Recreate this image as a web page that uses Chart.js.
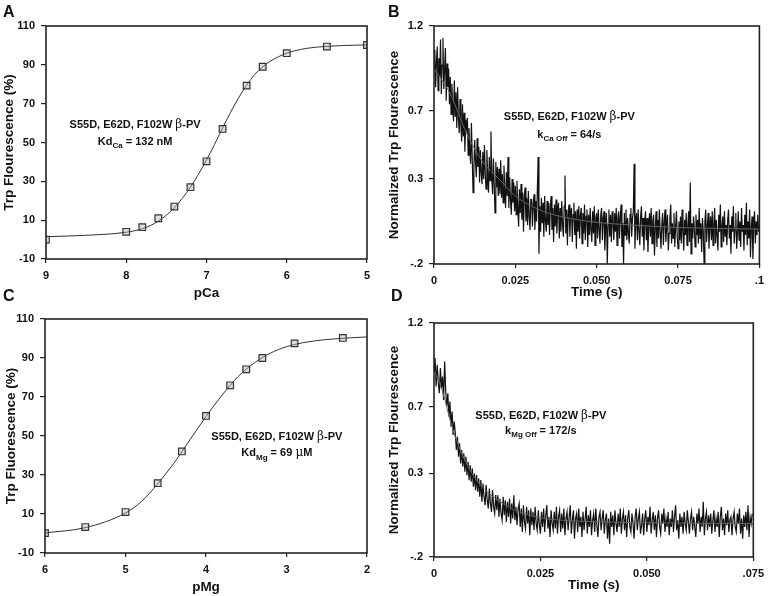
<!DOCTYPE html>
<html>
<head>
<meta charset="utf-8">
<script src="https://cdn.jsdelivr.net/npm/chart.js@4.4.0/dist/chart.umd.min.js"></script>
<style>
    body { margin: 0; background: #fff; }
    #fig { position: relative; width: 770px; height: 596px; font-family: "Liberation Sans", Arial, sans-serif; }
    .panel { position: absolute; }
    .letter { position: absolute; font-weight: bold; font-size: 16px; line-height: 1; color: #111; }
</style>
</head>
<body>
<div id="fig">
    <div class="panel" style="left:0;top:0"><canvas id="chartA" width="385" height="300"></canvas></div>
    <div class="panel" style="left:385px;top:0"><canvas id="chartB" width="385" height="300"></canvas></div>
    <div class="panel" style="left:0;top:300px"><canvas id="chartC" width="385" height="296"></canvas></div>
    <div class="panel" style="left:385px;top:300px"><canvas id="chartD" width="385" height="296"></canvas></div>
    <div class="letter" style="left:3px;top:4px">A</div>
    <div class="letter" style="left:388px;top:4px">B</div>
    <div class="letter" style="left:3px;top:288px">C</div>
    <div class="letter" style="left:391px;top:288px">D</div>
</div>
<script>
// panel A: Ca titration
var pCaPoints = [9, 8, 7.8, 7.6, 7.4, 7.2, 7.0, 6.8, 6.5, 6.3, 6.0, 5.5, 5.0];
var caFluor = [0, 4, 6.4, 11, 17, 27, 40.3, 57, 79.3, 89, 96, 99.4, 100.2];
var pCaFit = [9, 8.5, 8, 7.8, 7.6, 7.4, 7.2, 7.0, 6.9, 6.8, 6.7, 6.6, 6.5, 6.4, 6.3, 6.2, 6.0, 5.75, 5.5, 5.25, 5.0];
var caFit = [1.5, 2.2, 3.8, 5.6, 9.5, 16.5, 27, 41, 49, 57.5, 65.5, 73, 79.5, 85, 89, 92, 96, 98.5, 99.5, 100, 100.3];

// panel C: Mg titration
var pMgPoints = [6, 5.5, 5.0, 4.6, 4.3, 4.0, 3.7, 3.5, 3.3, 2.9, 2.3];
var mgFluor = [0.2, 3.3, 11, 25.8, 42.1, 60.3, 76, 84.2, 90, 97.5, 100.3];
var pMgFit = [6, 5.5, 5.0, 4.8, 4.6, 4.4, 4.2, 4.0, 3.8, 3.6, 3.4, 3.2, 3.0, 2.8, 2.5, 2.0];
var mgFit = [0.3, 3, 10.5, 16.5, 25.5, 36, 48, 60, 71, 80.5, 87.5, 92.5, 95.8, 97.8, 99.5, 100.8];

var titrTicksY = [-10, 10, 30, 50, 70, 90, 110];

// panel B: Ca off stopped-flow trace, one sample every 0.25 ms
var bStep = 0.00025;
var bTrace = [
    .95,1.06,.84,.99,1.08,.82,1.01,.9,1.12,.8,.97,1.13,.83,.94,1.07,.76,.98,.84,.95,.74,
    .9,.68,.86,.73,.64,.88,.67,.81,.6,.84,.66,.57,.77,.62,.52,.74,.55,.69,.46,.65,
    .58,.66,.44,.6,.47,.39,.63,.42,.22,.36,.53,.4,.31,.54,.37,.49,.28,.47,.34,.27,
    .46,.3,.5,.33,.24,.47,.32,.22,.43,.29,.58,.31,.21,.42,.27,.1,.4,.25,.37,.2,
    .36,.21,.41,.19,.33,.16,.38,.23,.13,.34,.2,.43,.13,.31,.18,.09,.3,.16,.28,.11,
    .26,.09,.29,.13,.02,.24,.1,.27,.06,.22,-.01,.2,.25,.05,.19,.03,.23,.08,0,.18,
    .18,.02,.15,.21,0,.17,.05,.23,.43,-.14,.14,-.01,.19,.04,.16,-.04,.2,.05,-.01,.17,
    .03,.16,-.03,.14,.2,0,.13,-.07,.15,.02,.18,-.02,.12,.16,-.05,.13,-.01,.17,.03,-.04,
    .14,.32,-.02,.12,-.09,.11,.15,-.04,.1,.13,-.07,.09,.16,-.03,.11,-.11,.12,-.01,.14,-.05,
    .09,.13,-.08,.1,-.02,.15,-.06,.08,.12,-.1,.09,-.03,.13,0,-.07,.11,-.02,.14,-.09,.07,
    .1,-.05,.12,0,-.08,.09,.13,-.06,.07,.11,-.12,.02,.1,-.2,.03,.12,-.04,.09,-.07,.11,
    .05,-.06,.1,-.01,.13,-.09,.07,.11,-.05,.08,.15,-.1,.04,-.2,.1,-.03,.12,-.06,.07,-.02,
    -.08,.09,.13,-.04,.07,.11,.39,-.11,.05,.1,-.06,.12,-.01,-.09,.08,.14,-.04,.07,-.12,.05,
    .11,-.06,.07,-.13,.02,.1,-.04,.13,-.08,.05,.09,-.15,.01,.11,-.1,.06,-.05,.12,-.01,-.11,
    .03,.1,-.09,.05,.12,-.07,.02,.09,-.12,-.02,.07,.15,-.08,.04,-.05,.1,-.1,.02,.11,-.04,
    -.11,.05,-.06,.08,-.08,.12,-.01,-.12,.06,-.03,.1,-.09,.02,.11,-.07,.28,-.14,.04,-.05,.08,
    .01,-.1,.09,-.03,.06,-.08,.13,-.05,.04,-.13,.07,-.01,-.2,.05,.12,-.07,.02,.1,-.11,.01,
    .08,-.06,.11,-.09,.04,.13,-.08,.06,-.03,-.12,.09,-.01,.15,-.1,.02,.08,-.07,.11,-.04,.03,
    -.09,.06,.12,-.05,.03,-.14,.08,-.01,.14,-.08,.01,.1,-.11,-.02,.11,-.06,.05,-.1,.13,-.01,
    .03,-.12,.09,-.03,.16,-.09,.05,-.05,.12,-.16,.01,.08,-.17,.03,.11,-.08,.05,-.03,.09,-.01
];
var bFitT = [0, 0.005, 0.01, 0.015, 0.02, 0.025, 0.03, 0.035, 0.04, 0.05, 0.06, 0.075, 0.1];
var bFitY = [0.95, 0.8, 0.57, 0.4, 0.3, 0.2, 0.14, 0.1, 0.075, 0.045, 0.03, 0.015, 0.005];
var bTicksX = [0, 0.025, 0.05, 0.075, 0.1];
var bLabelsX = ['0', '0.025', '0.050', '0.075', '.1'];

// panel D: Mg off stopped-flow trace
var dStep = 0.00025;
var dTrace = [
    .9,.99,.82,.95,.85,.78,.93,.81,.88,.74,.97,.79,.7,.78,.64,.73,.58,.67,.53,.61,
    .54,.44,.52,.4,.48,.36,.44,.34,.42,.31,.4,.29,.37,.26,.35,.25,.33,.22,.3,.2,
    .29,.19,.27,.16,.26,.13,.24,.16,.11,.23,.14,.09,.21,.12,.07,.2,.1,.06,.17,.08,
    .17,.04,.15,.06,.02,.16,.05,.14,.01,.13,.04,.15,0,.12,.03,.17,.02,.1,-.01,.09,
    .12,-.02,.09,-.05,.11,.01,-.03,.1,0,.08,-.07,.09,-.01,.07,-.04,.1,0,-.04,.08,-.01,
    -.06,.07,-.02,.09,-.05,.05,.11,-.03,.04,-.08,.08,0,-.04,.07,-.03,.1,-.06,.04,.08,-.05,
    .06,-.03,.09,-.07,.03,.07,-.04,.04,.11,-.06,.02,.08,-.09,.03,.06,-.05,.09,-.02,.04,-.08,
    .07,-.04,.03,.1,-.06,.05,-.02,.08,-.07,.02,.06,-.05,.09,-.01,-.08,.04,.07,-.04,.03,.08,
    -.06,.02,.06,-.09,.03,-.12,.07,-.02,.05,-.07,.08,0,-.05,.06,-.02,.09,-.06,.03,.07,-.04,
    .05,-.08,.03,.08,-.02,-.05,.06,0,-.09,.04,.09,-.04,.03,.07,-.06,-.01,.06,-.07,.03,.08,
    -.05,.04,-.01,.1,-.06,.02,.07,-.04,.05,-.08,.03,.08,-.02,-.06,.06,0,.09,-.05,.03,-.02,
    .07,-.07,.03,-.02,.08,-.05,.04,.11,-.04,.02,-.09,.06,-.02,.04,-.06,.07,0,-.04,.08,.01,
    -.06,.03,.07,-.04,.04,-.02,-.08,.06,0,.09,-.05,.04,-.02,.13,-.07,.03,.07,-.04,.05,-.02,
    .06,-.06,.02,.08,-.05,.03,-.02,.07,-.08,.04,.1,-.04,.03,-.07,.06,-.01,.08,-.05,.02,.04,
    -.07,.03,.07,-.02,-.05,.06,0,.09,-.06,.03,-.09,.05,-.02,.07,-.04,.11,-.08,.04,0,.06
];
var dFitT = [0, 0.002, 0.004, 0.006, 0.008, 0.01, 0.0125, 0.015, 0.0175, 0.02, 0.025, 0.03, 0.04, 0.05, 0.075];
var dFitY = [0.92, 0.79, 0.6, 0.45, 0.34, 0.26, 0.19, 0.14, 0.1, 0.07, 0.035, 0.02, 0.01, 0.005, 0.0];
var dTicksX = [0, 0.025, 0.05, 0.075];
var dLabelsX = ['0', '0.025', '0.050', '.075'];

var traceTicksY = [-0.2, 0.3, 0.7, 1.2];
var traceLabelsY = ['-.2', '0.3', '0.7', '1.2'];

var FONT = '"Liberation Sans", Arial, sans-serif';

function xy(xs, ys) {
    return xs.map(function (x, i) { return {x: x, y: ys[i]}; });
}

function sampled(ys, step) {
    return ys.map(function (y, i) { return {x: i * step, y: y}; });
}

// box around the plot area, plus the two-line note with subscripts
var panelNote = {
    id: 'panelNote',
    afterDraw: function (chart, args, opts) {
        var ctx = chart.ctx;
        var a = chart.chartArea;
        ctx.save();
        ctx.strokeStyle = '#222';
        ctx.lineWidth = 1.6;
        ctx.strokeRect(a.left, a.top, a.right - a.left, a.bottom - a.top);

        var cx = chart.scales.x.getPixelForValue(opts.x);
        var fonts = {
            b: 'bold 11px ' + FONT,
            r: '12px "DejaVu Serif", serif',
            s: 'bold 8px ' + FONT
        };
        [[opts.line1, opts.y1], [opts.line2, opts.y2]].forEach(function (row) {
            var parts = row[0];
            var cy = chart.scales.y.getPixelForValue(row[1]);
            var width = 0;
            parts.forEach(function (p) {
                ctx.font = fonts[p[1]];
                width += ctx.measureText(p[0]).width;
            });
            var x = cx - width / 2;
            ctx.fillStyle = '#111';
            ctx.textBaseline = 'middle';
            ctx.textAlign = 'left';
            parts.forEach(function (p) {
                ctx.font = fonts[p[1]];
                ctx.fillText(p[0], x, p[1] === 's' ? cy + 4 : cy);
                x += ctx.measureText(p[0]).width;
            });
        });
        ctx.restore();
    }
};

function makePanel(id, box, xScale, yScale, datasets, note) {
    var tickFont = {family: FONT, size: 11, weight: 'bold'};
    var grid = {drawOnChartArea: false, drawTicks: true, tickLength: 4, color: '#222', lineWidth: 1.2};
    xScale.type = 'linear';
    xScale.position = 'bottom';
    xScale.grid = grid;
    xScale.border = {display: false};
    xScale.ticks = Object.assign({font: tickFont, color: '#111', padding: 6, autoSkip: false, maxRotation: 0}, xScale.ticks || {});
    xScale.title = {display: true, text: box.xTitle, color: '#111', font: {family: FONT, size: 13.5, weight: 'bold', lineHeight: 1}, padding: {top: 0, bottom: box.xPad}};
    xScale.afterFit = function (s) { s.height = box.xh; };
    yScale.type = 'linear';
    yScale.position = 'left';
    yScale.grid = Object.assign({}, grid, {tickLength: 5});
    yScale.border = {display: false};
    yScale.ticks = Object.assign({font: tickFont, color: '#111', padding: 6, autoSkip: false}, yScale.ticks || {});
    yScale.title = {display: true, text: box.yTitle, color: '#111', font: {family: FONT, size: 13.5, weight: 'bold', lineHeight: 1}, padding: {top: box.yPad, bottom: 0}};
    yScale.afterFit = function (s) { s.width = box.yw; };

    return new Chart(document.getElementById(id), {
        type: 'scatter',
        data: {datasets: datasets},
        options: {
            responsive: false,
            animation: false,
            layout: {padding: {left: 0, top: box.top, right: box.right, bottom: 0}},
            plugins: {legend: {display: false}, tooltip: {enabled: false}, panelNote: note},
            scales: {x: xScale, y: yScale}
        },
        plugins: [panelNote]
    });
}

function titrationSets(px, py, fx, fy) {
    return [
        {data: xy(px, py), pointStyle: 'rect', pointRadius: 4.7, pointBorderWidth: 1.2,
         pointBorderColor: '#333', pointBackgroundColor: 'rgba(170,170,170,0.4)', showLine: false},
        {data: xy(fx, fy), showLine: true, borderColor: '#333', borderWidth: 1, pointRadius: 0,
         cubicInterpolationMode: 'monotone'}
    ];
}

function traceSets(trace, step, ft, fy) {
    return [
        {data: xy(ft, fy), showLine: true, borderColor: '#666', borderWidth: 1, pointRadius: 0,
         cubicInterpolationMode: 'monotone'},
        {data: sampled(trace, step), showLine: true, borderColor: '#111', borderWidth: 1.2, pointRadius: 0}
    ];
}

function fixedTicks(values, labels) {
    return {
        afterBuildTicks: function (scale) {
            scale.ticks = values.map(function (v) { return {value: v}; });
        },
        ticks: {
            callback: function (v, i) { return labels ? labels[i] : v; }
        }
    };
}

var title1 = [['S55D, E62D, F102W ', 'b'], ['\u03b2', 'r'], ['-PV', 'b']];

makePanel('chartA',
    {top: 26, right: 18, xh: 41, yw: 46, xTitle: 'pCa', yTitle: 'Trp Flourescence (%)', xPad: 0, yPad: 3},
    {min: 5, max: 9, reverse: true, ticks: {stepSize: 1}},
    Object.assign({min: -10, max: 110}, fixedTicks(titrTicksY)),
    titrationSets(pCaPoints, caFluor, pCaFit, caFit),
    {x: 7.89, y1: 59, y2: 50.4, line1: title1,
     line2: [['Kd', 'b'], ['Ca', 's'], [' = 132 nM', 'b']]});

var bX = fixedTicks(bTicksX, bLabelsX);
bX.min = 0; bX.max = 0.1;
var bY = fixedTicks(traceTicksY, traceLabelsY);
bY.min = -0.2; bY.max = 1.2;
makePanel('chartB',
    {top: 26, right: 9, xh: 36, yw: 49, xTitle: 'Time (s)', yTitle: 'Normalized Trp Flourescence', xPad: 1, yPad: 3},
    bX, bY,
    traceSets(bTrace, bStep, bFitT, bFitY),
    {x: 0.0416, y1: 0.666, y2: 0.559, line1: title1,
     line2: [['k', 'b'], ['Ca Off', 's'], [' = 64/s', 'b']]});

makePanel('chartC',
    {top: 19, right: 18, xh: 43, yw: 45, xTitle: 'pMg', yTitle: 'Trp Fluorescence (%)', xPad: 2, yPad: 5},
    {min: 2, max: 6, reverse: true, ticks: {stepSize: 1}},
    Object.assign({min: -10, max: 110}, fixedTicks(titrTicksY)),
    titrationSets(pMgPoints, mgFluor, pMgFit, mgFit),
    {x: 3.12, y1: 49.6, y2: 41.1, line1: title1,
     line2: [['Kd', 'b'], ['Mg', 's'], [' = 69 ', 'b'], ['\u03bc', 'r'], ['M', 'b']]});

var dX = fixedTicks(dTicksX, dLabelsX);
dX.min = 0; dX.max = 0.075;
var dY = fixedTicks(traceTicksY, traceLabelsY);
dY.min = -0.2; dY.max = 1.2;
makePanel('chartD',
    {top: 23, right: 13, xh: 39, yw: 49, xTitle: 'Time (s)', yTitle: 'Normalized Trp Flourescence', xPad: 4, yPad: 3},
    dX, dY,
    traceSets(dTrace, dStep, dFitT, dFitY),
    {x: 0.0251, y1: 0.643, y2: 0.555, line1: title1,
     line2: [['k', 'b'], ['Mg Off', 's'], [' = 172/s', 'b']]});
</script>
</body>
</html>
